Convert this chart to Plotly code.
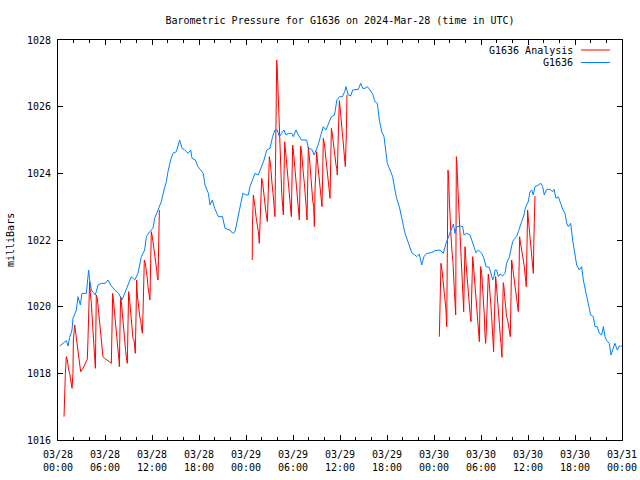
import pandas as pd
import plotly.graph_objects as go

BASE = pd.Timestamp("2024-03-28 00:00")

# ---- G1636 observations (hours after 03/28 00:00 UTC, mbar) ----
obs_hours = [0.21, 0.64, 1.06, 1.28, 1.49, 1.79, 1.91, 2.34, 2.55, 2.85, 3.06, 3.62, 3.91, 4.04,
             4.26, 4.77, 5.11, 5.53, 6.04, 6.38, 6.72, 7.23, 7.74, 8.17, 8.51, 8.94, 9.36, 9.79,
             10.21, 10.64, 11.06, 11.28, 11.7, 12.13, 12.34, 12.77, 13.19, 13.53, 13.83, 14.04,
             14.38, 14.68, 15.11, 15.53, 15.83, 16.17, 16.6, 16.94, 17.11, 17.53, 17.87, 18.21,
             18.55, 18.77, 19.2, 19.4, 19.7, 20.0, 20.47, 21.0, 21.32, 21.95, 22.3, 22.6, 22.9,
             23.24, 23.6, 24.0, 24.3, 24.5, 24.85, 25.15, 25.57, 26.0, 26.3, 26.64, 27.06, 27.4,
             27.7, 28.0, 28.26, 28.55, 28.85, 29.1, 29.4, 29.83, 30.04, 30.38, 30.68, 31.1, 31.74,
             31.96, 32.4, 32.7, 33.0, 33.2, 33.5, 33.87, 34.2, 34.5, 34.9, 35.3, 35.6, 35.95, 36.3,
             36.6, 36.77, 37.06, 37.36, 37.62, 38.34, 38.64, 38.9, 39.19, 39.49, 39.83, 40.17,
             40.47, 40.77, 41.02, 41.32, 41.62, 41.87, 42.04, 42.38, 42.72, 43.02, 43.23, 43.57,
             43.87, 44.09, 44.3, 44.72, 45.15, 45.57, 45.79, 46.13, 46.43, 46.72, 47.06, 47.7,
             48.13, 48.77, 49.19, 49.53, 49.83, 50.13, 50.47, 50.68, 50.89, 51.4, 51.66, 51.83,
             52.17, 52.6, 52.81, 53.02, 53.36, 53.66, 54.09, 54.38, 54.64, 55.06, 55.23, 55.49,
             55.66, 55.79, 56.0, 56.21, 56.42, 56.76, 57.06, 57.27, 57.61, 57.78, 58.04, 58.21,
             58.55, 58.76, 58.98, 59.19, 59.49, 59.61, 59.83, 60.04, 60.25, 60.47, 60.68, 60.89,
             61.32, 61.66, 61.87, 62.08, 62.38, 62.81, 63.15, 63.32, 63.57, 63.87, 64.17, 64.43,
             64.72, 64.94, 65.15, 65.45, 65.7, 66.0, 66.21, 66.55, 66.85, 67.06, 67.4, 67.7, 68.0,
             68.34, 68.55, 68.85, 69.1, 69.4, 69.62, 69.83, 70.04, 70.38, 70.6, 70.81, 71.1, 71.4,
             71.66, 71.96]
obs_values = [1018.82, 1018.9, 1018.98, 1018.82, 1019.08, 1019.3, 1019.65, 1019.9, 1020.3, 1020.05,
              1020.4, 1020.4, 1021.1, 1020.8, 1020.5, 1020.35, 1020.65, 1020.7, 1020.7, 1020.8,
              1020.65, 1020.5, 1020.4, 1020.2, 1020.4, 1020.7, 1020.9, 1020.8, 1021.0, 1021.5,
              1021.7, 1022.1, 1022.25, 1022.35, 1022.65, 1022.9, 1023.15, 1023.5, 1023.75, 1024.05,
              1024.4, 1024.6, 1024.65, 1025.0, 1024.75, 1024.7, 1024.6, 1024.7, 1024.45, 1024.4,
              1024.2, 1024.1, 1024.0, 1023.65, 1023.4, 1023.05, 1023.2, 1022.95, 1022.7, 1022.7,
              1022.35, 1022.3, 1022.2, 1022.25, 1022.6, 1023.0, 1023.4, 1023.35, 1023.35, 1023.6,
              1023.8, 1024.0, 1023.95, 1024.2, 1024.4, 1024.7, 1024.75, 1025.1, 1025.3, 1025.3,
              1025.1, 1025.2, 1025.3, 1025.15, 1025.2, 1025.2, 1025.1, 1025.3, 1025.15, 1025.0,
              1025.0, 1024.75, 1024.72, 1024.55, 1024.7, 1024.85, 1025.1, 1025.4, 1025.3, 1025.5,
              1025.7, 1025.75, 1026.2, 1026.3, 1026.3, 1026.45, 1026.6, 1026.35, 1026.32, 1026.5,
              1026.52, 1026.7, 1026.55, 1026.55, 1026.6, 1026.5, 1026.38, 1026.15, 1026.1, 1025.6,
              1025.25, 1025.1, 1024.7, 1024.3, 1024.1, 1023.9, 1023.5, 1023.25, 1023.0, 1022.7,
              1022.4, 1022.2, 1021.92, 1021.62, 1021.55, 1021.5, 1021.58, 1021.25, 1021.5, 1021.6,
              1021.62, 1021.68, 1021.7, 1021.6, 1021.9, 1022.1, 1022.3, 1022.48, 1022.2, 1022.4,
              1022.42, 1022.4, 1022.15, 1022.2, 1022.15, 1022.0, 1021.8, 1021.62, 1021.7, 1021.6,
              1021.45, 1021.2, 1021.18, 1021.0, 1020.8, 1020.9, 1021.1, 1021.1, 1020.9, 1020.98,
              1020.92, 1021.0, 1021.3, 1021.48, 1021.65, 1021.95, 1022.02, 1022.1, 1022.25, 1022.38,
              1022.55, 1022.75, 1022.92, 1023.05, 1023.15, 1023.45, 1023.5, 1023.35, 1023.6,
              1023.65, 1023.7, 1023.6, 1023.35, 1023.52, 1023.52, 1023.45, 1023.52, 1023.25,
              1023.3, 1023.1, 1022.92, 1022.8, 1022.5, 1022.4, 1022.5, 1022.0, 1021.6, 1021.25,
              1021.1, 1021.2, 1020.8, 1020.45, 1020.1, 1019.75, 1019.7, 1019.4, 1019.4, 1019.2,
              1019.15, 1019.4, 1019.1, 1018.98, 1018.9, 1018.55, 1018.7, 1018.9, 1018.7, 1018.82,
              1018.82]

# ---- G1636 Analysis, three separate runs of data ----
ana1_hours = [0.77, 0.81, 0.94, 1.06, 1.19, 1.36, 1.49, 1.62, 1.79, 1.91, 1.96, 2.13, 2.21, 2.34,
              2.47, 2.64, 2.77, 2.89, 3.19, 3.49, 3.74, 3.83, 3.96, 4.04, 4.13, 4.26, 4.38, 4.47,
              4.6, 4.77, 4.81, 4.89, 5.02, 5.11, 5.23, 5.36, 5.45, 5.53, 5.62, 5.74, 5.96, 6.38,
              6.81, 6.89, 6.98, 7.06, 7.19, 7.32, 7.45, 7.57, 7.66, 7.79, 7.83, 7.91, 8.0, 8.09,
              8.17, 8.3, 8.38, 8.51, 8.64, 8.77, 8.85, 8.94, 9.02, 9.11, 9.23, 9.36, 9.45, 9.57,
              9.7, 9.79, 9.87, 9.96, 10.04, 10.13, 10.21, 10.34, 10.47, 10.55, 10.64, 10.77, 10.85,
              10.94, 11.02, 11.15, 11.28, 11.4, 11.49, 11.62, 11.74, 11.83, 11.91, 12.04, 12.17,
              12.26, 12.34, 12.47, 12.6, 12.68, 12.77, 12.85, 12.94]
ana1_values = [1016.7, 1017.15, 1018.0, 1018.5, 1018.4, 1018.1, 1018.0, 1017.8, 1017.55, 1018.0,
               1019.0, 1019.45, 1019.3, 1019.05, 1018.8, 1018.5, 1018.3, 1018.05, 1018.15, 1018.3,
               1018.42, 1019.05, 1020.2, 1020.75, 1020.4, 1020.1, 1019.6, 1019.3, 1018.9, 1018.15,
               1018.9, 1020.35, 1020.25, 1020.0, 1019.7, 1019.5, 1019.25, 1018.95, 1018.7, 1018.5,
               1018.45, 1018.38, 1018.3, 1019.3, 1020.4, 1020.25, 1019.9, 1019.5, 1019.3, 1018.95,
               1018.7, 1018.4, 1018.2, 1019.3, 1020.3, 1020.15, 1019.9, 1019.6, 1019.2, 1018.95,
               1018.65, 1018.4, 1018.3, 1019.5, 1020.45, 1020.3, 1019.9, 1019.55, 1019.3, 1019.05,
               1019.0, 1018.75, 1018.6, 1019.7, 1020.8, 1020.35, 1020.1, 1019.9, 1019.65, 1019.6,
               1019.4, 1019.2, 1019.8, 1020.8, 1021.4, 1021.3, 1021.1, 1020.85, 1020.6, 1020.4,
               1020.2, 1021.3, 1022.25, 1022.1, 1021.9, 1021.7, 1021.55, 1021.3, 1021.1, 1020.9,
               1020.8, 1021.85, 1022.9]

ana2_hours = [24.8, 24.81, 24.94, 25.07, 25.15, 25.28, 25.45, 25.58, 25.7, 25.79, 25.87, 26.0, 26.13,
              26.21, 26.34, 26.47, 26.56, 26.73, 26.81, 26.9, 26.98, 27.11, 27.19, 27.32, 27.45,
              27.58, 27.7, 27.75, 27.83, 27.92, 28.0, 28.09, 28.17, 28.26, 28.34, 28.43, 28.56,
              28.68, 28.77, 28.85, 28.94, 29.02, 29.11, 29.24, 29.32, 29.45, 29.58, 29.7, 29.79,
              29.87, 29.96, 30.04, 30.17, 30.3, 30.47, 30.6, 30.73, 30.81, 30.9, 30.98, 31.11,
              31.19, 31.32, 31.45, 31.58, 31.66, 31.79, 31.87, 31.96, 32.09, 32.17, 32.3, 32.43,
              32.51, 32.64, 32.73, 32.81, 32.9, 33.02, 33.11, 33.24, 33.36, 33.49, 33.62, 33.7,
              33.79, 33.87, 34.0, 34.13, 34.26, 34.39, 34.51, 34.64, 34.73, 34.81, 34.9, 34.98,
              35.11, 35.24, 35.36, 35.49, 35.58, 35.66, 35.75, 35.83, 35.92, 36.04, 36.17, 36.3,
              36.43, 36.56, 36.68, 36.81, 36.89]
ana2_values = [1021.4, 1022.35, 1023.35, 1023.2, 1023.0, 1022.7, 1022.45, 1022.25, 1021.9, 1022.5,
               1023.4, 1023.85, 1023.7, 1023.5, 1023.2, 1023.0, 1022.8, 1022.55, 1023.3, 1024.0,
               1024.5, 1024.3, 1024.0, 1023.7, 1023.4, 1023.1, 1022.7, 1023.9, 1025.1, 1027.4,
               1027.1, 1026.5, 1025.85, 1025.1, 1024.4, 1023.9, 1023.4, 1023.0, 1022.75, 1023.9,
               1024.95, 1024.75, 1024.5, 1024.15, 1023.85, 1023.5, 1023.2, 1022.9, 1022.7, 1023.8,
               1024.85, 1024.7, 1024.35, 1024.0, 1023.7, 1023.3, 1022.8, 1022.6, 1023.7, 1024.82,
               1024.6, 1024.3, 1024.0, 1023.7, 1023.4, 1023.05, 1022.6, 1023.7, 1024.78, 1024.5,
               1024.2, 1023.85, 1023.5, 1023.2, 1023.0, 1022.4, 1023.5, 1024.35, 1024.65, 1024.4,
               1024.1, 1023.8, 1023.5, 1023.3, 1023.0, 1024.0, 1025.05, 1024.9, 1024.6, 1024.3,
               1023.9, 1023.7, 1023.5, 1023.25, 1024.3, 1025.35, 1025.25, 1025.0, 1024.7, 1024.4,
               1024.25, 1024.15, 1023.95, 1024.9, 1025.75, 1026.18, 1025.9, 1025.5, 1025.15,
               1024.9, 1024.55, 1024.2, 1025.2, 1026.35]

ana3_hours = [48.68, 48.77, 48.89, 49.02, 49.15, 49.28, 49.4, 49.53, 49.62, 49.7, 49.79, 49.87,
              49.96, 50.04, 50.17, 50.3, 50.43, 50.55, 50.68, 50.77, 50.81, 50.85, 50.94, 51.06,
              51.19, 51.32, 51.45, 51.57, 51.7, 51.79, 51.87, 51.96, 52.09, 52.21, 52.34, 52.47,
              52.6, 52.72, 52.81, 52.94, 53.02, 53.15, 53.28, 53.4, 53.53, 53.66, 53.79, 53.87,
              53.96, 54.09, 54.21, 54.34, 54.43, 54.5, 54.59, 54.68, 54.76, 54.85, 54.93, 55.02,
              55.1, 55.19, 55.27, 55.36, 55.44, 55.53, 55.61, 55.7, 55.78, 55.87, 55.95, 56.04,
              56.13, 56.21, 56.3, 56.38, 56.47, 56.55, 56.68, 56.76, 56.85, 56.93, 57.02, 57.1,
              57.19, 57.27, 57.4, 57.53, 57.61, 57.74, 57.83, 57.91, 58.0, 58.08, 58.21, 58.3,
              58.42, 58.55, 58.68, 58.76, 58.85, 58.93, 59.02, 59.15, 59.27, 59.4, 59.53, 59.66,
              59.78, 59.87, 59.95, 60.04, 60.17, 60.25, 60.34, 60.47, 60.55, 60.68, 60.76, 60.89]
ana3_values = [1019.1, 1020.7, 1021.3, 1021.1, 1020.8, 1020.45, 1020.2, 1019.9, 1019.4, 1021.5,
               1024.1, 1023.8, 1023.2, 1022.6, 1022.1, 1021.65, 1021.3, 1020.7, 1020.1, 1019.75,
               1022.1, 1024.5, 1024.2, 1023.5, 1022.8, 1022.2, 1021.5, 1020.9, 1020.2, 1019.85,
               1020.9, 1021.8, 1021.3, 1020.9, 1020.5, 1020.1, 1019.8, 1019.55, 1020.6, 1021.5,
               1021.3, 1020.9, 1020.5, 1020.2, 1019.8, 1019.4, 1018.95, 1020.1, 1021.2, 1021.0,
               1020.6, 1020.1, 1019.7, 1019.2, 1018.9, 1019.3, 1020.1, 1020.7, 1020.98, 1020.8,
               1020.4, 1020.1, 1020.0, 1019.7, 1019.3, 1019.0, 1018.65, 1019.6, 1020.5, 1020.9,
               1020.7, 1020.4, 1020.1, 1019.7, 1019.5, 1019.3, 1019.1, 1018.9, 1018.48, 1019.9,
               1020.72, 1020.6, 1020.3, 1020.1, 1019.9, 1019.7, 1019.6, 1019.45, 1019.3, 1019.1,
               1020.3, 1021.4, 1021.25, 1021.1, 1020.8, 1020.6, 1020.4, 1020.15, 1020.0, 1019.85,
               1021.0, 1022.1, 1021.95, 1021.7, 1021.5, 1021.4, 1021.2, 1020.9, 1020.6, 1021.8,
               1022.9, 1022.65, 1022.3, 1022.0, 1021.8, 1021.6, 1021.4, 1021.0, 1022.1, 1023.32]

title_text = "Barometric Pressure for G1636 on 2024-Mar-28 (time in UTC)"
y_title = "milliBars"
series_names = ["G1636 Analysis", "G1636"]
series_colors = ["#ff0000", "#0080ff"]

FONT = "DejaVu Sans Mono"


def to_time(hours):
    return list(BASE + pd.to_timedelta(hours, unit="h"))


# combine analysis runs into one trace with gaps
ana_x, ana_y = [], []
for hrs, vals in [(ana1_hours, ana1_values), (ana2_hours, ana2_values), (ana3_hours, ana3_values)]:
    if ana_x:
        ana_x.append(None)
        ana_y.append(None)
    ana_x.extend(to_time(hrs))
    ana_y.extend(vals)

fig = go.Figure()
fig.add_trace(go.Scatter(x=ana_x, y=ana_y, mode="lines", name=series_names[0],
                         line=dict(color=series_colors[0], width=1), connectgaps=False))
fig.add_trace(go.Scatter(x=to_time(obs_hours), y=obs_values, mode="lines", name=series_names[1],
                         line=dict(color=series_colors[1], width=1)))

fig.update_layout(
    width=640, height=480,
    margin=dict(l=58, r=18, t=40, b=40),
    paper_bgcolor="white", plot_bgcolor="white",
    font=dict(family=FONT, size=10, color="black"),
    showlegend=False,
    title=dict(text=title_text, xref="paper", x=0.5, xanchor="center",
               y=1 - 20 / 480, yanchor="middle",
               font=dict(family=FONT, size=10, color="black")),
)

fig.update_xaxes(
    type="date", automargin=False,
    range=[BASE, BASE + pd.Timedelta(hours=72)],
    tick0=BASE, dtick=6 * 3600 * 1000,
    tickformat="%m/%d<br>%H:%M",
    ticks="inside", ticklen=5, tickcolor="black", tickwidth=1,
    ticklabelstandoff=5,
    showline=True, linecolor="black", linewidth=1, mirror="ticks",
    showgrid=False, zeroline=False,
    minor=dict(dtick=2 * 3600 * 1000, ticks="inside", ticklen=3, tickcolor="black", showgrid=False),
    tickfont=dict(family=FONT, size=10, color="black"),
)
fig.update_yaxes(
    automargin=False,
    range=[1016, 1028], dtick=2, tick0=1016,
    ticks="inside", ticklen=5, tickcolor="black", tickwidth=1,
    ticklabelstandoff=4,
    showline=True, linecolor="black", linewidth=1, mirror="ticks",
    showgrid=False, zeroline=False,
    tickfont=dict(family=FONT, size=10, color="black"),
)

# y-axis title
fig.add_annotation(text=y_title, xref="paper", yref="paper", x=-48 / 564, y=0.5,
                   textangle=-90, showarrow=False, xanchor="center", yanchor="middle",
                   font=dict(family=FONT, size=10, color="black"))

# gnuplot-style key: text then line sample
key_rows = [50, 62.5]
for name, color, py in zip(series_names, series_colors, key_rows):
    yp = (440 - py) / 400
    fig.add_annotation(text=name, xref="paper", yref="paper", x=(575 - 58) / 564, y=yp,
                       xanchor="right", yanchor="middle", showarrow=False,
                       font=dict(family=FONT, size=10, color="black"))
    fig.add_shape(type="line", xref="paper", yref="paper",
                  x0=(581 - 58) / 564, x1=(610 - 58) / 564, y0=yp, y1=yp,
                  line=dict(color=color, width=1))

fig.write_html("out.html", config={"displayModeBar": False},
               post_script="document.body.style.margin='0px';")
